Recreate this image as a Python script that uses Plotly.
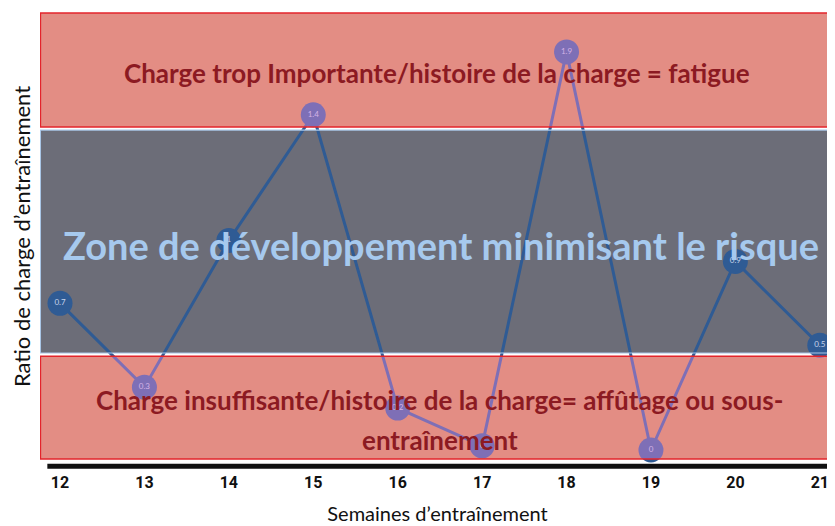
import plotly.graph_objects as go

weeks = [12, 13, 14, 15, 16, 17, 18, 19, 20, 21]
ratio = [0.7, 0.3, 1.0, 1.6, 0.2, 0.02, 1.9, 0.0, 0.9, 0.5]
point_labels = ["0.7", "0.3", "1", "1.4", "0.2", "0", "1.9", "0", "0.9", "0.5"]

zone_high = [1.542, 2.086]
zone_mid = [0.463, 1.527]
zone_low = [-0.043, 0.448]

x_left, x_right = 11.763, 21.18
y_range = [-0.062, 2.100]

fig = go.Figure()

fig.add_trace(go.Scatter(
    x=weeks, y=ratio, mode="lines+markers+text",
    line=dict(color="#2f5b94", width=3),
    marker=dict(size=25, color="#2f5b94"),
    text=point_labels, textposition="middle center",
    textfont=dict(size=8, color="#c8d4ea", family="Lato"),
    hoverinfo="skip", showlegend=False, cliponaxis=False,
))

shapes = []
for z in (zone_high, zone_low):
    shapes.append(dict(type="rect", xref="x", yref="y", x0=x_left, x1=x_right + 1, y0=z[0], y1=z[1],
                       fillcolor="#e6923a", line=dict(width=0), layer="below"))
shapes.append(dict(type="rect", xref="x", yref="y", x0=x_left, x1=x_right + 1, y0=zone_mid[0], y1=zone_mid[1],
                   fillcolor="#6c6d78", line=dict(width=0), layer="below"))
for z in (zone_high, zone_low):
    shapes.append(dict(type="rect", xref="x", yref="y", x0=x_left, x1=x_right + 1, y0=z[0], y1=z[1],
                       fillcolor="rgb(225,135,225)", opacity=0.45, line=dict(width=0), layer="above"))
for z in (zone_high, zone_low):
    shapes.append(dict(type="rect", xref="x", yref="y", x0=x_left + 0.005, x1=x_right - 0.01, y0=z[0], y1=z[1],
                       fillcolor="rgba(0,0,0,0)", line=dict(width=1.5, color="#e3242b"), layer="above"))
shapes.append(dict(type="rect", xref="x", yref="y", x0=x_left + 0.005, x1=x_right - 0.01, y0=zone_mid[0], y1=zone_mid[1],
                   fillcolor="rgba(0,0,0,0)", line=dict(width=1.2, color="#a9c6e6"), layer="above"))
shapes.append(dict(type="line", xref="x", yref="paper", x0=11.85, x1=x_right + 1, y0=-0.007, y1=-0.007,
                   line=dict(width=5, color="#111111"), layer="above"))

fig.update_layout(shapes=shapes)

red_txt = dict(family="Lato", size=26, color="#8c1a22", weight=700)
fig.add_annotation(x=16.46, y=1.80, xref="x", yref="y", showarrow=False,
                   text="Charge trop Importante/histoire de la charge = fatigue", font=red_txt)
fig.add_annotation(x=16.51, y=0.98, xref="x", yref="y", showarrow=False,
                   text="Zone de développement minimisant le risque",
                   font=dict(family="Lato", size=38, color="#a6c9ee", weight=700))
fig.add_annotation(x=16.5, y=0.24, xref="x", yref="y", showarrow=False,
                   text="Charge insuffisante/histoire de la charge= affûtage ou sous-", font=red_txt)
fig.add_annotation(x=16.5, y=0.05, xref="x", yref="y", showarrow=False,
                   text="entraînement", font=red_txt)

fig.update_xaxes(range=[x_left, x_right], tickmode="array", tickvals=weeks,
                 ticktext=[str(w) for w in weeks], showgrid=False, zeroline=False, showline=False,
                 ticks="", ticklabelstandoff=8, automargin=False,
                 tickfont=dict(family="Liberation Sans Narrow, Roboto", size=16, color="#111111", weight=700),
                 title=dict(text="Semaines d’entraînement", standoff=15,
                            font=dict(family="Lato", size=20, color="#111111")))
fig.update_yaxes(range=y_range, showgrid=False, zeroline=False, showline=False, showticklabels=False,
                 ticks="", automargin=False,
                 title=dict(text="Ratio de charge d’entraînement", standoff=10,
                            font=dict(family="Lato", size=22, color="#111111")))

# page body adds an 8px offset; compensate so the plot area lands where the reference has it
fig.update_layout(width=827, height=518, margin=dict(l=32, r=0, t=2, b=63),
                  plot_bgcolor="white", paper_bgcolor="white")

fig.write_html("out.html")
